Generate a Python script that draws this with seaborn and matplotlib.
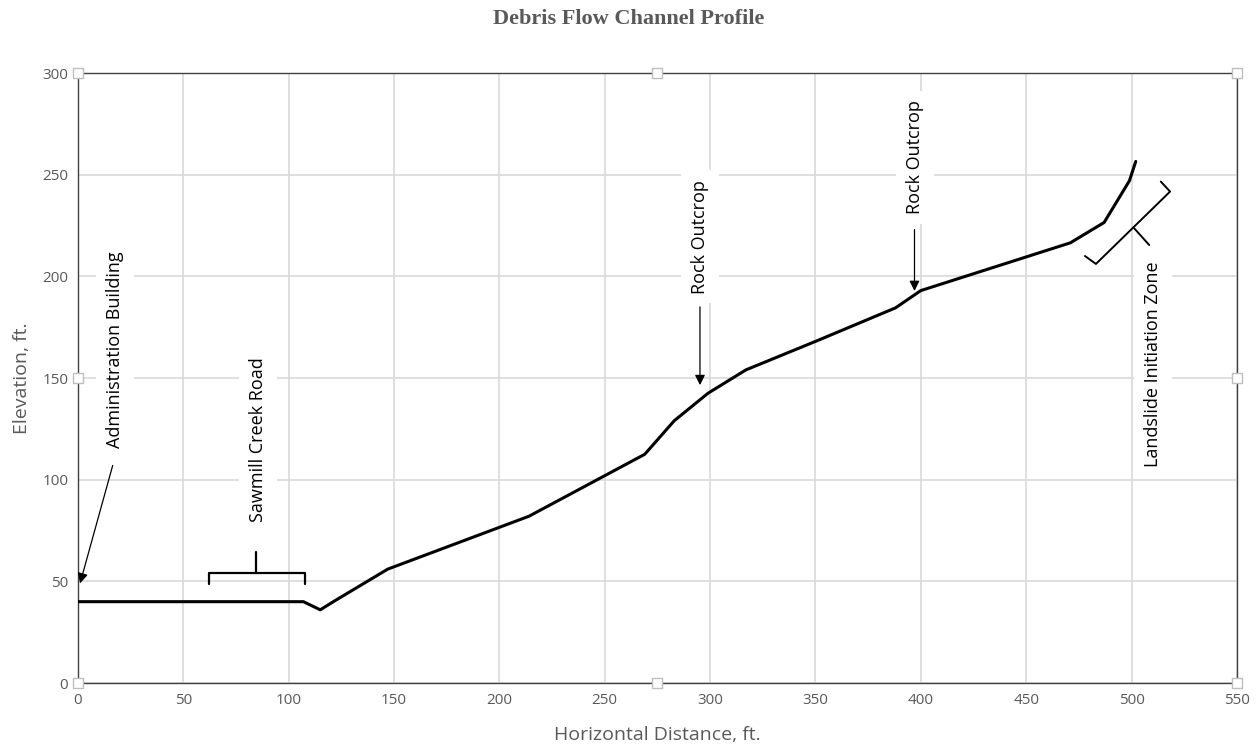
import pandas as pd
import matplotlib.pyplot as plt
import seaborn as sns
import numpy as np

sns.set_style('white')
plt.rcParams['font.family'] = ['Open Sans', 'DejaVu Sans']

# Perfil do canal
distance = [0, 62, 107, 115, 122, 147, 214, 269, 283, 299, 317, 350, 388, 400, 471, 487, 499, 502]
elevation = [40, 40, 40, 36, 40.5, 56, 82, 112.5, 129, 142.5, 154, 168, 184.5, 193, 216.5, 226.5, 247, 256.5]

df = pd.DataFrame({'dist': distance, 'elev': elevation})

gray = '#595959'
grid = '#D9D9D9'

fig = plt.figure(figsize=(12.57, 7.45), dpi=100)
ax = fig.add_axes([0.062, 0.0832, 0.922, 0.8188])

sns.lineplot(data=df, x='dist', y='elev', sort=False, color='black', linewidth=2.2, ax=ax, zorder=3)

ax.set_xlim(0, 550)
ax.set_ylim(0, 300)
ax.set_xticks(np.arange(0, 551, 50))
ax.set_yticks(np.arange(0, 301, 50))
ax.grid(True, color=grid, linewidth=1.2, zorder=0)
ax.set_axisbelow(True)
for s in ax.spines.values():
    s.set_color('#404040')
    s.set_linewidth(1.0)
ax.tick_params(axis='both', length=0, labelsize=11, labelcolor=gray, pad=7)

ax.set_xlabel('Horizontal Distance, ft.', fontsize=14, color=gray, labelpad=13)
ax.set_ylabel('Elevation, ft.', fontsize=14, color=gray, labelpad=8)
fig.text(0.5, 0.974, 'Debris Flow Channel Profile', ha='center', va='center',
         fontsize=16, fontweight='bold', color=gray, family='Liberation Serif')

box = dict(facecolor='white', edgecolor='none', pad=7)
txt_kw = dict(rotation=90, ha='center', va='center', fontsize=13, color='black', bbox=box, zorder=5)
arrow_kw = dict(arrowstyle='-|>', color='black', lw=0.9, mutation_scale=15, shrinkA=0, shrinkB=0)

# Anotações
ax.text(17.5, 164, 'Administration Building', **txt_kw)
ax.annotate('', xy=(1, 49), xytext=(16.5, 107), arrowprops=arrow_kw, zorder=5)

ax.text(85.5, 119.5, 'Sawmill Creek Road', **txt_kw)
ax.plot([62, 62, 107.7, 107.7], [48.7, 54.1, 54.1, 48.7], color='black', lw=1.6, zorder=4)
ax.plot([84.7, 84.7], [54.1, 64.4], color='black', lw=1.6, zorder=4)

ax.text(295.2, 219.5, 'Rock Outcrop', **txt_kw)
ax.annotate('', xy=(295.2, 146.5), xytext=(295.2, 185), arrowprops=arrow_kw, zorder=5)

ax.text(397.2, 258.5, 'Rock Outcrop', **txt_kw)
ax.annotate('', xy=(397, 192.8), xytext=(397, 223), arrowprops=arrow_kw, zorder=5)

ax.text(510.2, 157, 'Landslide Initiation Zone', **txt_kw)
ax.plot([477.9, 483.1, 518.3, 513.9], [210.0, 206.1, 241.7, 246.6], color='black', lw=1.4, zorder=4)
ax.plot([501.2, 508.4], [223.7, 215.4], color='black', lw=1.4, zorder=4)

# Marcadores de seleção do gráfico
hx = [0, 0.5, 1, 0, 1, 0, 0.5, 1]
hy = [0, 0, 0, 0.5, 0.5, 1, 1, 1]
ax.scatter(hx, hy, marker='s', s=45, facecolor='white', edgecolor='#BFBFBF',
           linewidth=1, transform=ax.transAxes, clip_on=False, zorder=10)

plt.savefig('out.png', dpi=100)
plt.close()
